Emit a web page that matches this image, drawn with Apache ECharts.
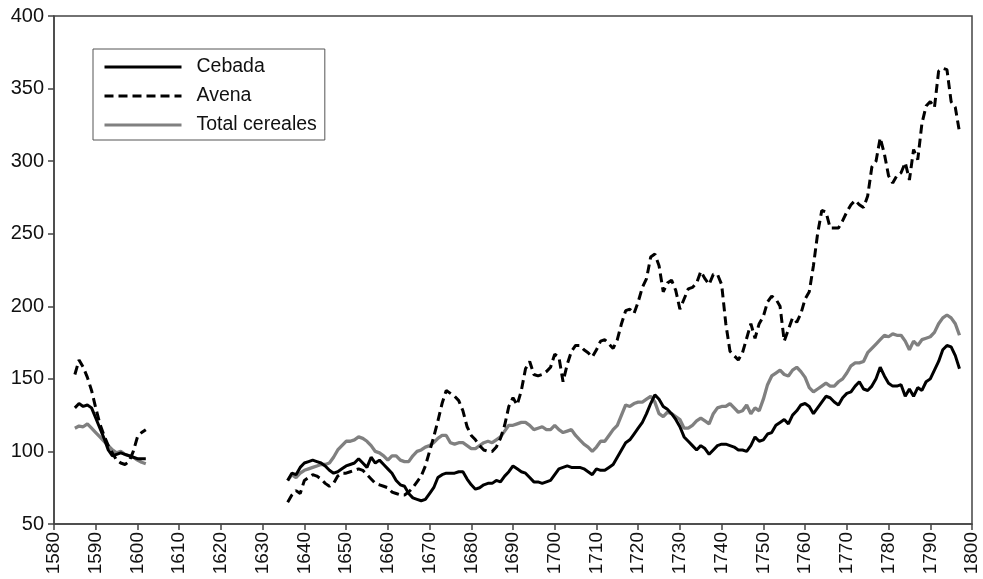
<!DOCTYPE html>
<html>
<head>
<meta charset="utf-8">
<script src="https://cdn.jsdelivr.net/npm/echarts@6/dist/echarts.min.js"></script>
<style>
  html, body { margin: 0; padding: 0; background: #fff; }
  #chart { width: 983px; height: 579px; }
</style>
</head>
<body>
<div id="chart"></div>
<script>
// first block of years: 1585-1602
const start1 = 1585
const cebada1 = [130, 133, 131, 132, 130, 123, 116, 109, 101, 97, 98, 99, 98, 97, 96, 95, 95, 95]
const avena1 = [153, 163, 158, 151, 142, 130, 119, 111, 104, 99, 94, 92, 91, 93, 100, 110, 113, 115]
const total1 = [116, 117.5, 117, 119, 116, 113, 110, 107, 104, 101, 99, 100, 98, 97, 96, 94, 92.5, 91.5]

// second block of years: 1636-1797
const start2 = 1636
const cebada2 = [
  80, 85, 84, 89, 92, 93, 94, 93, 92, 90,
  87, 85, 86, 88, 90, 91, 92, 95, 92, 89,
  96, 92, 94, 91, 88, 85, 80, 77, 76, 71,
  68, 67, 66, 67, 71, 75, 82, 84, 85, 85,
  85, 86, 86, 81, 77, 74, 75, 77, 78, 78,
  80, 79, 83, 86, 90, 88, 86, 85, 82, 79,
  79, 78, 79, 80, 84, 88, 89, 90, 89, 89,
  89, 88, 86, 84, 88, 87, 87, 89, 91, 96,
  101, 106, 108, 112, 116, 120, 126, 133, 139, 136,
  131, 129, 126, 122, 117, 110, 107, 104, 101, 104,
  102, 98, 101, 104, 105, 105, 104, 103, 101, 101,
  100, 104, 110, 107, 108, 112, 113, 118, 120, 122,
  119, 125, 128, 132, 133, 131, 126, 130, 134, 138,
  137, 134, 132, 137, 140, 141, 145, 148, 143, 142,
  145, 150, 158, 152, 147, 145, 145, 146, 138, 143,
  138, 144, 142, 148, 150, 156, 162, 170, 173, 172,
  166, 157
]
const avena2 = [
  65, 70, 73, 71, 80, 82, 84, 83, 81, 78,
  76, 78, 83, 85, 85, 86, 87, 88, 87, 84,
  81, 78, 77, 76, 75, 72, 71, 70, 70, 72,
  75, 79, 83, 90, 100, 110, 121, 133, 142, 140,
  138, 135, 128, 117, 111, 108, 104, 101, 100, 100,
  103, 109, 118, 131, 137, 132, 142, 157, 162, 153,
  152, 153, 155, 158, 167, 165, 148, 160, 169, 173,
  173, 170, 168, 165, 170, 176, 177, 174, 171, 177,
  188, 197, 198, 195, 203, 213, 219, 234, 236, 228,
  210, 216, 218, 211, 198, 205, 212, 213, 216, 224,
  219, 215, 222, 222, 215, 188, 169, 166, 163, 168,
  178, 188, 178, 188, 193, 203, 207, 205, 200, 176,
  184, 192, 189, 195, 205, 210, 228, 250, 266, 265,
  254, 254, 254, 259, 265, 270, 273, 270, 268, 276,
  296, 300, 316, 305, 290, 285, 290, 292, 299, 287,
  308, 301, 326, 338, 341, 337, 362, 364, 363, 341,
  337, 320
]
const total2 = [
  80, 84, 82, 85, 87, 88, 89, 90, 91, 91,
  92, 96, 101, 104, 107, 107, 108, 110, 109, 107,
  104, 100, 99, 97, 94, 97, 97, 94, 93, 93,
  97, 100, 101, 103, 104, 106, 109, 111, 111, 106,
  105, 106, 106, 104, 102, 102, 104, 106, 107, 106,
  108, 110, 114, 118, 118, 119, 120, 120, 118, 115,
  116, 117, 115, 115, 118, 115, 113, 114, 115, 111,
  108, 105, 103, 100, 103, 107, 107, 111, 115, 118,
  125, 132, 131, 133, 134, 134, 136, 138, 134, 126,
  124, 127, 126, 124, 122, 116, 116, 118, 121, 123,
  121, 119, 126, 130, 131, 131, 133, 130, 127, 128,
  132, 126, 130, 128, 136, 146, 152, 154, 156, 153,
  152, 156, 158, 155, 151, 144, 141, 143, 145, 147,
  145, 145, 148, 150, 154, 159, 161, 161, 162, 168,
  171, 174, 177, 180, 179, 181, 180, 180, 176, 170,
  176, 173, 177, 178, 179, 182, 188, 192, 194, 192,
  188, 180
]

const seriesNames = ['Cebada', 'Avena', 'Total cereales']
const yTicks = { min: 50, max: 400, step: 50 }
const xTicks = { min: 1580, max: 1800, step: 10 }

function pairs(vals1, vals2) {
  let out = []
  vals1.forEach((v, i) => out.push([start1 + i, v]))
  out.push([start1 + vals1.length, '-'])  // gap between the two periods
  vals2.forEach((v, i) => out.push([start2 + i, v]))
  return out
}

const font = 'Liberation Sans, Arial, sans-serif'

let mychart = echarts.init(document.getElementById('chart'))
mychart.setOption({
  backgroundColor: '#fff',
  animation: false,
  grid: {
    left: 54,
    right: 11,
    top: 16,
    bottom: 55,
    show: true,
    borderColor: '#444',
    borderWidth: 1.5
  },
  legend: {
    data: seriesNames,
    orient: 'vertical',
    left: 93,
    top: 49,
    padding: [8, 8, 5, 10],
    itemWidth: 77,
    itemHeight: 14,
    itemGap: 9,
    borderColor: '#555',
    borderWidth: 1,
    itemStyle: { opacity: 0 },
    lineStyle: { width: 3 },
    textStyle: { fontFamily: font, fontSize: 19.5, color: '#111', padding: [0, 0, 0, 10] }
  },
  xAxis: {
    type: 'value',
    min: xTicks.min,
    max: xTicks.max,
    interval: xTicks.step,
    splitLine: { show: false },
    axisLine: { lineStyle: { color: '#444', width: 1.5 } },
    axisTick: { show: true, length: 6, lineStyle: { color: '#444', width: 1.5 } },
    axisLabel: {
      rotate: 90,
      margin: 8,
      fontFamily: font,
      fontSize: 19,
      color: '#111',
      formatter: v => String(v)
    }
  },
  yAxis: {
    type: 'value',
    min: yTicks.min,
    max: yTicks.max,
    interval: yTicks.step,
    splitLine: { show: false },
    axisLine: { show: true, lineStyle: { color: '#444', width: 1.5 } },
    axisTick: { show: true, length: 6, lineStyle: { color: '#444', width: 1.5 } },
    axisLabel: { margin: 10, fontFamily: font, fontSize: 20, color: '#111' }
  },
  series: [
    {
      name: seriesNames[0],
      type: 'line',
      symbol: 'none',
      data: pairs(cebada1, cebada2),
      lineStyle: { color: '#000', width: 3 },
      itemStyle: { color: '#000' },
      z: 4
    },
    {
      name: seriesNames[1],
      type: 'line',
      symbol: 'none',
      data: pairs(avena1, avena2),
      lineStyle: { color: '#000', width: 3, type: [9, 5] },
      itemStyle: { color: '#000' },
      z: 3
    },
    {
      name: seriesNames[2],
      type: 'line',
      symbol: 'none',
      data: pairs(total1, total2),
      lineStyle: { color: '#808080', width: 3.3 },
      itemStyle: { color: '#808080' },
      z: 2
    }
  ]
})
</script>
</body>
</html>
